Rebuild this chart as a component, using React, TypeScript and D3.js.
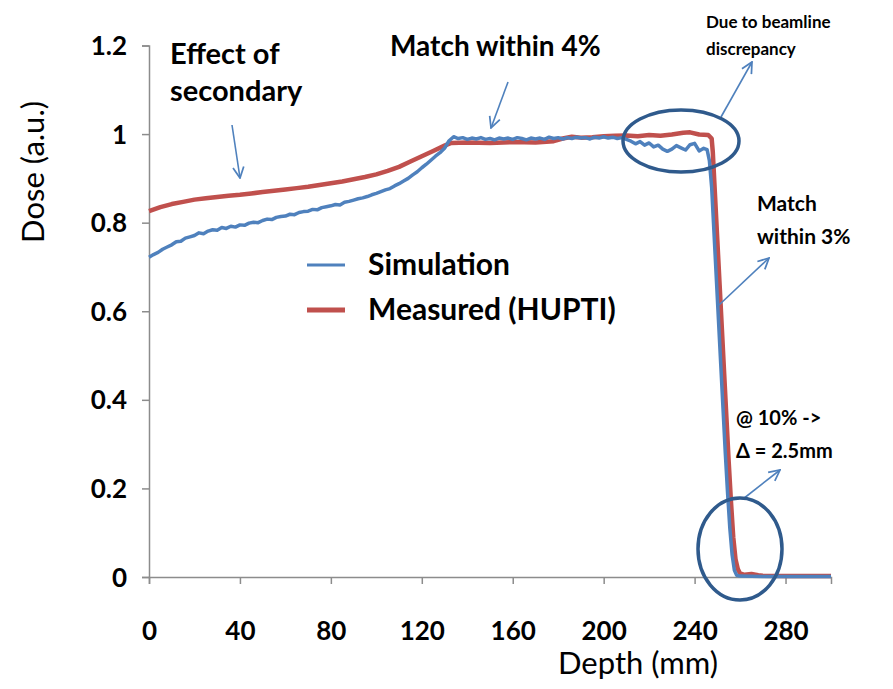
import { useEffect, useRef } from 'react';
import * as d3 from 'd3';

// depth (mm) / dose pairs
const simDepth = [
  0, 2, 4, 6, 8, 10, 12, 14, 16, 18, 20, 22, 24, 26, 28, 30, 32, 34, 36, 38,
  40, 42, 44, 46, 48, 50, 52, 54, 56, 58, 60, 62, 64, 66, 68, 70, 72, 74, 76, 78,
  80, 82, 84, 86, 88, 90, 92, 94, 96, 98, 100, 102, 104, 106, 108, 110, 112, 114, 116, 118,
  120, 122, 124, 126, 128, 130, 132, 134, 136, 138, 140, 142, 144, 146, 148, 150, 152, 154, 156, 158,
  160, 162, 164, 166, 168, 170, 172, 174, 176, 178, 180, 182, 184, 186, 188, 190, 192, 194, 196, 198,
  200, 202, 204, 206, 208, 210, 212, 214, 216, 218, 220, 222, 224, 226, 228, 230, 232, 234, 236, 238,
  240, 242, 244, 245.5, 246.5, 247.5, 248.5, 249.5, 250.5, 251.5, 252.5, 253.5, 254.5, 255.5, 256.5, 257.5, 258.5, 260,
  270, 280, 300,
];
const simDose = [
  0.722, 0.728, 0.733, 0.740, 0.745, 0.750, 0.757, 0.758, 0.765, 0.768, 0.771, 0.777, 0.775, 0.781, 0.784, 0.783, 0.789, 0.787, 0.792, 0.790,
  0.795, 0.794, 0.799, 0.801, 0.800, 0.805, 0.808, 0.807, 0.812, 0.814, 0.815, 0.819, 0.818, 0.823, 0.825, 0.826, 0.830, 0.829, 0.834, 0.836,
  0.838, 0.841, 0.840, 0.846, 0.848, 0.851, 0.854, 0.856, 0.859, 0.863, 0.866, 0.870, 0.874, 0.877, 0.883, 0.888, 0.894, 0.900, 0.908, 0.915,
  0.924, 0.932, 0.941, 0.950, 0.958, 0.968, 0.985, 0.994, 0.990, 0.992, 0.988, 0.991, 0.989, 0.992, 0.988, 0.990, 0.987, 0.991, 0.989, 0.991,
  0.988, 0.992, 0.990, 0.987, 0.991, 0.989, 0.991, 0.988, 0.993, 0.990, 0.992, 0.989, 0.992, 0.990, 0.993, 0.991, 0.992, 0.989, 0.993, 0.991,
  0.994, 0.991, 0.993, 0.990, 0.992, 0.988, 0.984, 0.978, 0.983, 0.975, 0.980, 0.971, 0.975, 0.966, 0.961, 0.966, 0.974, 0.969, 0.964, 0.976,
  0.979, 0.962, 0.968, 0.965, 0.94, 0.88, 0.78, 0.68, 0.58, 0.48, 0.38, 0.28, 0.19, 0.11, 0.05, 0.015, 0.004, 0.002,
  0.001, 0.001, 0.001,
];

const measDepth = [
  0, 5, 10, 15, 20, 25, 30, 35, 40, 45, 50, 55, 60, 65, 70, 75, 80, 85, 90, 95,
  100, 105, 110, 115, 120, 125, 130, 133, 140, 150, 160, 170, 178, 182, 186, 190, 195, 200, 205, 210,
  215, 220, 225, 230, 235, 238, 242, 246, 247.5, 248, 249, 250, 251, 252, 253, 254, 255, 256, 257, 258,
  259, 260, 262, 265, 268, 270, 280, 300,
];
const measDose = [
  0.826, 0.835, 0.842, 0.847, 0.852, 0.855, 0.858, 0.861, 0.863, 0.866, 0.869, 0.872, 0.875, 0.878, 0.881, 0.885, 0.889, 0.893, 0.898, 0.903,
  0.909, 0.917, 0.926, 0.938, 0.950, 0.962, 0.974, 0.980, 0.981, 0.980, 0.982, 0.981, 0.984, 0.990, 0.994, 0.992, 0.993, 0.995, 0.996, 0.997,
  0.995, 0.998, 0.996, 0.999, 1.003, 1.004, 0.999, 0.998, 0.99, 0.96, 0.86, 0.76, 0.66, 0.56, 0.46, 0.36, 0.26, 0.17, 0.09, 0.04,
  0.018, 0.008, 0.005, 0.007, 0.004, 0.003, 0.002, 0.002,
];

const xTicks = [0, 40, 80, 120, 160, 200, 240, 280];
const yTicks = [0, 0.2, 0.4, 0.6, 0.8, 1, 1.2];

const seriesNames = ['Simulation', 'Measured (HUPTI)'];
const seriesColors = ['#4f81bd', '#c0504d'];

const W = 893;
const H = 689;
const FONT = 'Lato, "Open Sans", sans-serif';

export default function App() {
  const ref = useRef<SVGSVGElement | null>(null);

  useEffect(() => {
    if (!ref.current) return;
    const svg = d3.select(ref.current);
    svg.selectAll('*').remove();

    const x = d3.scaleLinear().domain([0, 300]).range([149, 831]);
    const y = d3.scaleLinear().domain([0, 1.2]).range([577, 45.5]);

    svg.append('rect').attr('width', W).attr('height', H).attr('fill', '#fff');

    const defs = svg.append('defs');
    defs.append('marker')
      .attr('id', 'arr')
      .attr('viewBox', '0 0 12 12')
      .attr('refX', 11)
      .attr('refY', 6)
      .attr('markerWidth', 13)
      .attr('markerHeight', 13)
      .attr('markerUnits', 'userSpaceOnUse')
      .attr('orient', 'auto')
      .append('path')
      .attr('d', 'M1,1 L11,6 L1,11')
      .attr('fill', 'none')
      .attr('stroke', '#4f81bd')
      .attr('stroke-width', 1.6);

    // axes
    const axisColor = '#8c8c8c';
    const xAxis = svg.append('g')
      .attr('transform', `translate(0,${y(0)})`)
      .call(d3.axisBottom(x).tickValues(xTicks).tickSize(7).tickFormat(d3.format('d')));
    xAxis.select('.domain').attr('stroke', axisColor).attr('stroke-width', 1.5);
    xAxis.selectAll('.tick line').attr('stroke', axisColor).attr('stroke-width', 1.5);
    xAxis.selectAll('.tick text')
      .attr('y', 63)
      .attr('dy', 0)
      .attr('fill', '#000')
      .style('font-family', FONT)
      .style('font-weight', 'bold')
      .style('font-size', '26px');

    const yAxis = svg.append('g')
      .attr('transform', `translate(${x(0)},0)`)
      .call(d3.axisLeft(y).tickValues(yTicks).tickSize(7).tickFormat(d => String(d)));
    yAxis.select('.domain').attr('stroke', axisColor).attr('stroke-width', 1.5);
    yAxis.selectAll('.tick line').attr('stroke', axisColor).attr('stroke-width', 1.5);
    yAxis.selectAll('.tick text')
      .attr('x', -22)
      .attr('dy', '0.35em')
      .attr('fill', '#000')
      .style('font-family', FONT)
      .style('font-weight', 'bold')
      .style('font-size', '26px');

    svg.append('text')
      .attr('transform', `translate(44,172) rotate(-90)`)
      .attr('text-anchor', 'middle')
      .style('font-family', FONT)
      .style('font-size', '31px')
      .text('Dose (a.u.)');

    svg.append('text')
      .attr('x', 638)
      .attr('y', 674)
      .attr('text-anchor', 'middle')
      .style('font-family', FONT)
      .style('font-size', '31px')
      .text('Depth (mm)');

    // lines
    const line = d3.line<[number, number]>()
      .x(d => x(d[0]))
      .y(d => y(d[1]));

    const meas = measDepth.map((d, i) => [d, measDose[i]] as [number, number]);
    const sim = simDepth.map((d, i) => [d, simDose[i]] as [number, number]);

    svg.append('path')
      .attr('d', line(meas))
      .attr('fill', 'none')
      .attr('stroke', seriesColors[1])
      .attr('stroke-width', 4.5)
      .attr('stroke-linejoin', 'round');

    svg.append('path')
      .attr('d', line(sim))
      .attr('fill', 'none')
      .attr('stroke', seriesColors[0])
      .attr('stroke-width', 3.5)
      .attr('stroke-linejoin', 'round');

    // legend
    const legend = svg.append('g');
    seriesNames.forEach((name, i) => {
      const ly = 265 + i * 45;
      legend.append('line')
        .attr('x1', 307).attr('x2', 345)
        .attr('y1', ly).attr('y2', ly)
        .attr('stroke', seriesColors[i])
        .attr('stroke-width', i === 0 ? 3 : 5);
      legend.append('text')
        .attr('x', 368)
        .attr('y', ly + 10)
        .style('font-family', FONT)
        .style('font-weight', 'bold')
        .style('font-size', '30px')
        .text(name);
    });

    // annotations
    const note = (lines: string[], tx: number, ty: number, size: number, lh: number) => {
      const t = svg.append('text')
        .style('font-family', FONT)
        .style('font-weight', 'bold')
        .style('font-size', `${size}px`);
      lines.forEach((s, i) => {
        t.append('tspan').attr('x', tx).attr('y', ty + i * lh).text(s);
      });
    };
    note(['Effect of', 'secondary'], 170, 64, 29, 37);
    note(['Match within 4%'], 390, 56, 28, 0);
    note(['Due to beamline', 'discrepancy'], 706, 28, 17, 27);
    note(['Match', 'within 3%'], 757, 211, 21, 33);
    note(['@ 10% ->', 'Δ = 2.5mm'], 736, 425, 20, 33);

    const arrow = (x1: number, y1: number, x2: number, y2: number) => {
      svg.append('line')
        .attr('x1', x1).attr('y1', y1)
        .attr('x2', x2).attr('y2', y2)
        .attr('stroke', '#4f81bd')
        .attr('stroke-width', 1.6)
        .attr('marker-end', 'url(#arr)');
    };
    arrow(232, 125, 240, 178);
    arrow(508, 82, 491, 128);
    arrow(721, 117, 752, 62);
    arrow(719, 305, 769, 258);
    arrow(743, 499, 780, 470);

    // highlight ellipses
    const ellipse = (cx: number, cy: number, rx: number, ry: number) => {
      svg.append('ellipse')
        .attr('cx', cx).attr('cy', cy)
        .attr('rx', rx).attr('ry', ry)
        .attr('fill', 'none')
        .attr('stroke', '#2f5a8c')
        .attr('stroke-width', 3.5);
    };
    ellipse(681, 141, 58, 31);
    ellipse(740, 549, 42, 51);
  }, []);

  return (
    <svg ref={ref} width={W} height={H} style={{ display: 'block', margin: '-8px' }} />
  );
}
